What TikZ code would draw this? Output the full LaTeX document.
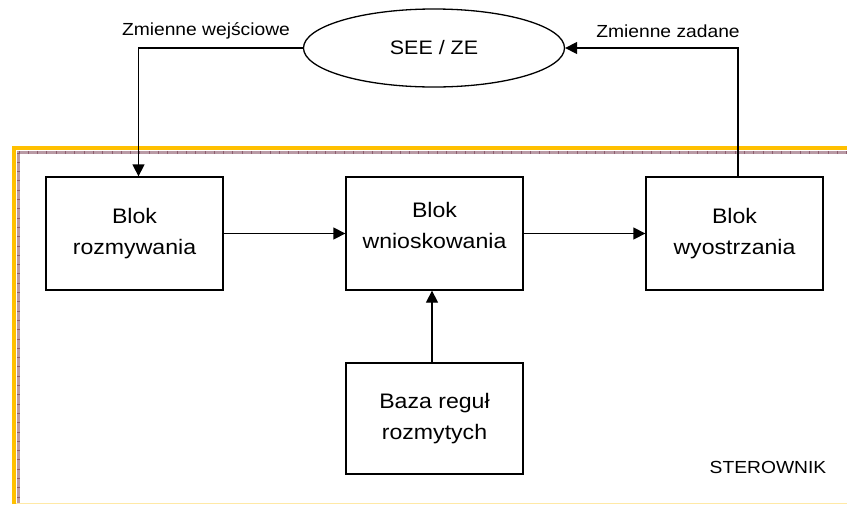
\documentclass[tikz,border=0pt]{standalone}
\usepackage{fontspec}
\setmainfont{Liberation Sans}[FakeStretch=1.1]
\usetikzlibrary{arrows.meta,shapes.geometric}
\definecolor{frameorange}{HTML}{FFC000}
\definecolor{framemauve}{HTML}{B99AA5}
\definecolor{frametick}{HTML}{8E5E6E}
\tikzset{
  block/.style={draw, line width=1.3pt, minimum width=177pt, minimum height=113pt,
    inner sep=0pt},
  blocktext/.style={align=center, font=\fontsize{21}{31}\selectfont},
  link/.style={draw, line width=1.3pt, -{Triangle[length=12pt,width=12pt]}},
  lbl/.style={font=\fontsize{17.5}{19}\selectfont, inner sep=0pt},
}
\begin{document}
\begin{tikzpicture}[x=1pt,y=-1pt]
\useasboundingbox (0,0) rectangle (847,504);
\clip (0,0) rectangle (847,504);
\fill[white] (0,0) rectangle (847,504);

% controller frame: orange border with a ticked inner rim
\draw[frameorange!35, line width=1pt] (14,503.6) -- (870,503.6);
\draw[frameorange, line width=4pt] (14,504) -- (14,148) -- (870,148);
\draw[framemauve, line width=2.5pt] (18.5,503) -- (18.5,152.5) -- (870,152.5);
\draw[frametick, line width=3pt, dash pattern=on 1pt off 8.3pt] (18.5,152.5) -- (870,152.5);
\draw[frametick, line width=3pt, dash pattern=on 1pt off 8.3pt] (18.5,152.5) -- (18.5,503);

% process under control
\node[draw, ellipse, line width=1.3pt, minimum width=261pt, minimum height=78pt,
      inner sep=0pt, font=\fontsize{19.5}{22}\selectfont] (see) at (434,48) {SEE / ZE};

% controller blocks
\node[block] (fuzz) at (134.5,233.5) {};
\node[blocktext] (fuzzt) at (fuzz.center) {Blok\\rozmywania};
\node[block] (inf) at (434.5,233.5) {};
\node[blocktext] (inft) at (434.5,225) {Blok\\wnioskowania};
\node[block] (defuzz) at (734.5,233.5) {};
\node[blocktext] (defuzzt) at (defuzz.center) {Blok\\wyostrzania};
\node[block, minimum height=111pt] (rules) at (434.5,418.5) {};
\node[blocktext] (rulest) at (rules.center) {Baza reguł\\rozmytych};

% signal flow
\draw[link] (see.west) -| ([xshift=4pt]fuzz.north);
\draw[link] (fuzz.east) -- (inf.west);
\draw[link] (inf.east) -- (defuzz.west);
\draw[link] ([xshift=-2.5pt]rules.north) -- ([xshift=-2.5pt]inf.south);
\draw[link] ([xshift=3.5pt]defuzz.north) |- (see.east);

% labels
\node[lbl] (inlbl) at (206,31) {Zmienne wejściowe};
\node[lbl] (setlbl) at (668,31) {Zmienne zadane};
\node[lbl] (ctrl) at (768,467) {STEROWNIK};
\end{tikzpicture}
\end{document}
